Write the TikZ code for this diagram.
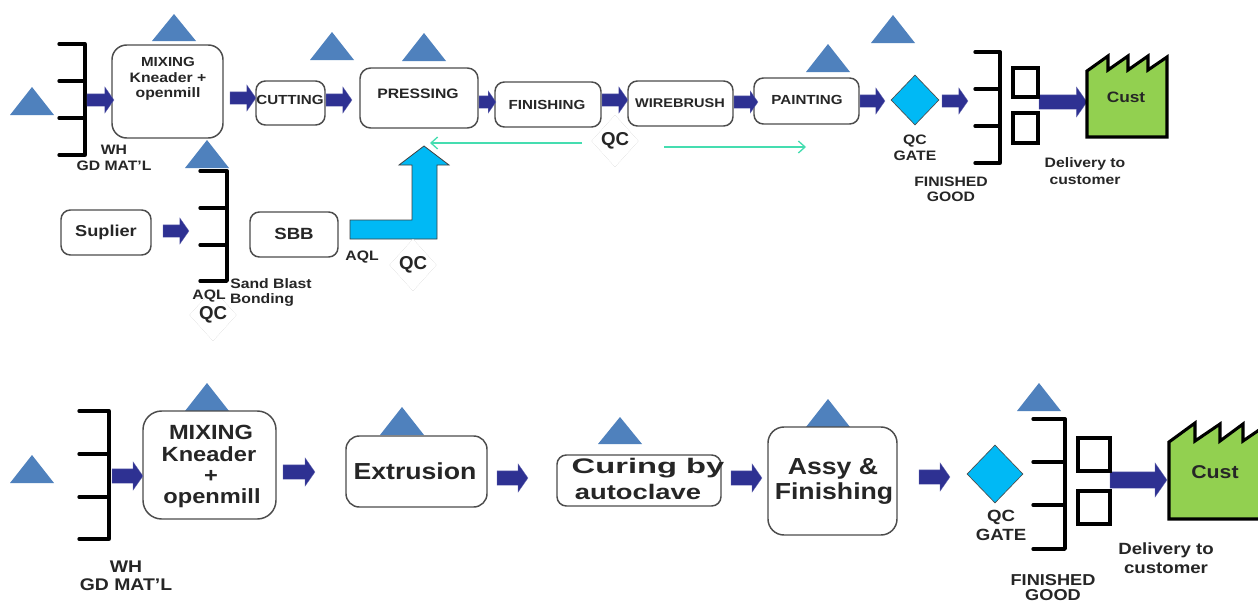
\documentclass[tikz,border=0pt]{standalone}
\usepackage{fontspec}
\setmainfont{Liberation Sans}
\usetikzlibrary{shapes.geometric,shapes.arrows,arrows.meta,shadows}
\definecolor{tribl}{HTML}{4F81BD}
\definecolor{navy}{HTML}{2E3192}
\definecolor{cyanb}{HTML}{00B9F5}
\definecolor{greenf}{HTML}{92D050}
\definecolor{tealg}{HTML}{45DDB0}
\definecolor{ink}{HTML}{262626}
\tikzset{
  pbox/.style={draw=black!70,line width=1.1pt,rounded corners=#1,fill=white,inner sep=0pt,outer sep=0pt},
  pbox/.default=9pt,
  txt/.style={font=\bfseries,text=ink,inner sep=0pt,align=center},
  barrow/.style={shape=single arrow,fill=navy,draw=navy!70,line width=.2pt,inner sep=0pt,outer sep=0pt,
     shape border rotate=0,single arrow tip angle=110,anchor=tip},
  tri/.style={fill=tribl},
  brk/.style={draw=black,line width=2.5pt,line cap=round,line join=round},
  qcd/.style={shape=diamond,fill=white,inner sep=0pt,aspect=1,font=\bfseries\fontsize{14}{14}\selectfont,text=ink,
     general shadow={yshift=-1pt,fill=black!30}},
  gate/.style={shape=diamond,fill=cyanb,draw=black!70,line width=.5pt,inner sep=0pt,aspect=1},
  tray/.style={draw=black,line width=2.3pt,fill=white},
  fact/.style={draw=black,line width=2.3pt,fill=greenf,line join=miter},
  tealc/.style={draw=tealg,line width=1pt,-{Straight Barb[length=5pt,width=9pt]}}
}
\newcounter{ac}\newcounter{lc}\newcounter{bc}
% name x1 y1 x2 y2 radius
\newcommand{\PB}[6]{\node[pbox=#6,minimum width={(#4-#2)*0.75pt},minimum height={(#5-#3)*0.75pt}] (#1) at ({(#2+#4)/2},{(#3+#5)/2}) {};}
% x y size stretch text: all text is set a little narrow in height and wide across
\newcommand{\LB}[5]{\stepcounter{lc}\pgfmathsetmacro{\lbsz}{#3*0.79}\pgfmathsetmacro{\lbst}{#4*1.15}\node[txt] (lab\arabic{lc}) at (#1,#2) {\fontsize{\lbsz}{\lbsz}\selectfont\scalebox{\lbst}[1]{#5}};}
% x1 x2 y bodyhalf headhalf
\newcommand{\AR}[5]{\stepcounter{ac}\pgfmathsetlengthmacro{\arh}{2*#4*0.75pt}\node[barrow,minimum height={(#2-#1)*0.75pt},single arrow head extend={(#5-#4)*0.75pt}] (arr\arabic{ac}) at (#2,#3) {\rule{0pt}{\arh}};}
\newcommand{\TR}[3]{\fill[tri] (#1-22,#3) -- (#1,#2) -- (#1+22,#3) -- cycle;}
% xtickstart xvert y1 y2 y3 y4
\newcommand{\BK}[6]{\draw[brk] (#1,#3) -- (#2,#3) -- (#2,#6) -- (#1,#6) (#1,#4) -- (#2,#4) (#1,#5) -- (#2,#5);}
\begin{document}
\begin{tikzpicture}[x=0.75pt,y=-0.75pt]
\useasboundingbox (0,0) rectangle (1258,603);
\fill[white] (0,0) rectangle (1258,603);
% triangles top
\TR{32}{87}{115}\TR{174}{14}{41}\TR{332}{32}{60}\TR{424}{33}{61}\TR{207}{140}{168}\TR{828}{44}{72}\TR{893}{15}{43}
% brackets top
\BK{59}{85}{44}{81}{118}{155}
\BK{200}{227}{171}{208}{245}{281}
\BK{975}{1000}{52}{89}{126}{163}
% boxes top
\PB{mix}{112}{45}{223}{138}{11pt}
\PB{cut}{256}{81}{325}{125}{7pt}
\PB{pre}{360}{68}{478}{128}{8pt}
\PB{fin}{495}{82}{601}{127}{7pt}
\PB{wir}{628}{81}{733}{126}{7pt}
\PB{pai}{754}{78}{859}{124}{7pt}
\PB{sup}{61}{210}{151}{255}{7pt}
\PB{sbb}{250}{212}{338}{257}{7pt}
% arrows top
\AR{87}{114}{100}{6}{13}
\AR{230}{256}{98}{6}{13}
\AR{326}{352}{100}{6}{13}
\AR{479}{496}{102}{6}{11}
\AR{602}{628}{100}{6}{13}
\AR{734}{758}{102}{6}{11}
\AR{860}{885}{101}{6}{13}
\AR{942}{968}{101}{6}{13}
\AR{1039}{1087}{102}{7}{15}
\AR{163}{189}{231}{6}{13}
% big L arrow
\draw[fill=cyanb,draw=black!75,line width=.6pt,line join=miter] (350,220) -- (412,220) -- (412,165) -- (399,165) -- (424,146) -- (449,165) -- (437,165) -- (437,239) -- (350,239) -- cycle;
% trays and factory top
\draw[tray] (1013,68) rectangle (1038,97);
\draw[tray] (1013,113) rectangle (1038,143);
\draw[fact] (1087,137) -- (1087,71) -- (1108,56) -- (1108,70) -- (1128,56) -- (1128,70) -- (1148,56) -- (1148,70) -- (1167,57) -- (1167,137) -- cycle;
% gate top
\node[gate,minimum width={48*0.75pt},minimum height={50*0.75pt}] (gateA) at (915,100) {};
% QC diamonds top
\node[qcd,minimum width={47*0.75pt},minimum height={52*0.75pt}] (qcA) at (615,141) {QC};
\node[qcd,minimum width={47*0.75pt},minimum height={52*0.75pt}] (qcB) at (413,265) {QC};
\node[qcd,minimum width={47*0.75pt},minimum height={52*0.75pt}] (qcC) at (213,315) {QC};
% teal connectors
\coordinate (tA) at (582,143); \coordinate (tB) at (430,143);
\coordinate (tC) at (664,147); \coordinate (tD) at (806,147);
\draw[tealc] (tA) -- (tB);
\draw[tealc] (tC) -- (tD);
% labels top
\LB{168}{62}{12.5}{1}{MIXING}
\LB{168}{78}{13}{1}{Kneader +}
\LB{168}{94}{13}{1}{openmill}
\LB{290}{100}{12.5}{1}{CUTTING}
\LB{418}{94}{13}{1}{PRESSING}
\LB{547}{105}{12.5}{1}{FINISHING}
\LB{680}{103}{12}{1}{WIREBRUSH}
\LB{807}{100}{12.5}{1}{PAINTING}
\LB{1126}{97}{14.3}{1}{Cust}
\LB{915}{141}{13}{1}{QC}
\LB{915}{156}{13}{1}{GATE}
\LB{951}{182}{13}{1}{FINISHED}
\LB{951}{197}{13}{1}{GOOD}
\LB{1085}{164}{13}{1}{Delivery to}
\LB{1085}{180}{13}{1}{customer}
\LB{114}{150}{13}{1}{WH}
\LB{114}{166}{13}{1}{GD MAT'L}
\LB{106}{232}{15}{1}{Suplier}
\LB{294}{234}{15.4}{1}{SBB}
\LB{362}{257}{13}{1}{AQL}
\LB{209}{296}{13}{1}{AQL}
\LB{271}{284}{13}{1}{Sand Blast}
\LB{262}{300}{13}{1}{Bonding}
% triangles bottom
\TR{32}{455}{483}\TR{207}{383}{411}\TR{402}{407}{435}\TR{620}{417}{444}\TR{828}{399}{427}\TR{1039}{383}{411}
% brackets bottom
\BK{79}{109}{411}{454}{497}{539}
\BK{1033}{1065}{419}{462}{505}{549}
% boxes bottom
\PB{mixB}{143}{411}{276}{519}{14pt}
\PB{ext}{346}{436}{487}{507}{10pt}
\PB{cur}{557}{455}{721}{506}{7pt}
\PB{ass}{768}{427}{897}{535}{12pt}
% arrows bottom
\AR{112}{143}{476}{7}{14}
\AR{283}{315}{472}{7}{14}
\AR{497}{528}{478}{7}{14}
\AR{731}{762}{478}{7}{14}
\AR{919}{950}{477}{7}{14}
\AR{1110}{1167}{480}{8}{17}
% trays and factory bottom
\draw[tray] (1078,438) rectangle (1110,471);
\draw[tray] (1078,491) rectangle (1110,524);
\draw[fact] (1169,519) -- (1169,442) -- (1195,423) -- (1195,441) -- (1220,424) -- (1220,441) -- (1243,424) -- (1243,441) -- (1262,428) -- (1262,519) -- cycle;
\node[gate,minimum width={56*0.75pt},minimum height={58*0.75pt}] (gateB) at (995,474) {};
% labels bottom
\LB{211}{432}{19.5}{1}{MIXING}
\LB{209}{454}{19.5}{1}{Kneader}
\LB{211}{476}{19.5}{1}{+}
\LB{212}{498}{19.5}{1}{openmill}
\LB{415}{471}{22}{1}{Extrusion}
\LB{648}{468}{20}{1.35}{Curing by}
\LB{638}{492}{20}{1.13}{autoclave}
\LB{833}{469}{22}{1}{Assy \&}
\LB{834}{494}{22}{1}{Finishing}
\LB{1215}{472}{17.6}{1}{Cust}
\LB{1001}{517}{15.4}{1}{QC}
\LB{1001}{535}{15.4}{1}{GATE}
\LB{1053}{580}{15}{1}{FINISHED}
\LB{1053}{595}{15}{1}{GOOD}
\LB{1166}{550}{15.4}{1}{Delivery to}
\LB{1166}{568}{15.4}{1}{customer}
\LB{126}{567}{16}{1}{WH}
\LB{126}{585}{16}{1}{GD MAT'L}
\end{tikzpicture}
\end{document}
